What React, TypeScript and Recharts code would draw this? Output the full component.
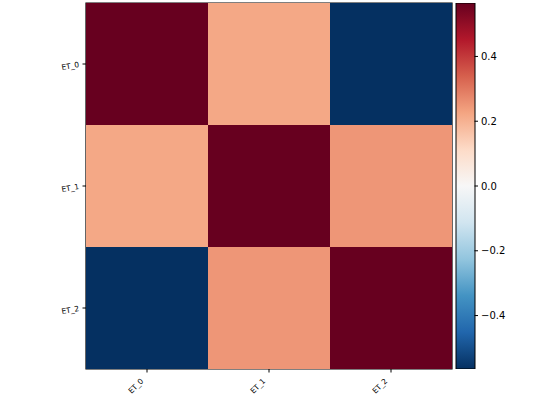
import {
  ScatterChart,
  Scatter,
  BarChart,
  Bar,
  XAxis,
  YAxis,
  ReferenceArea,
} from "recharts";

// correlation matrix (diagonal is clipped to the top of the colour range)
const labels = ["ET_0", "ET_1", "ET_2"];
const row0 = [1, 0.22, -0.565];
const row1 = [0.22, 1, 0.25];
const row2 = [-0.565, 0.25, 1];
const matrix = [row0, row1, row2];
const vmin = -0.565;
const vmax = 0.565;
const cbarTicks = [-0.4, -0.2, 0, 0.2, 0.4];

// matplotlib RdBu_r stops (low -> high)
const rdbu = [
  "#053061", "#2166ac", "#4393c3", "#92c5de", "#d1e5f0", "#f7f7f7",
  "#fddbc7", "#f4a582", "#d6604d", "#b2182b", "#67001f",
];

const hex = (c: string) => [1, 3, 5].map((i) => parseInt(c.slice(i, i + 2), 16));

const colorFor = (v: number) => {
  let t = (v - vmin) / (vmax - vmin);
  t = Math.max(0, Math.min(1, t));
  const p = t * (rdbu.length - 1);
  const i = Math.min(Math.floor(p), rdbu.length - 2);
  const f = p - i;
  const a = hex(rdbu[i]);
  const b = hex(rdbu[i + 1]);
  const c = a.map((x, k) => Math.round(x + (b[k] - x) * f));
  return `rgb(${c[0]},${c[1]},${c[2]})`;
};

const cells = matrix.flatMap((row, r) =>
  row.map((value, c) => ({ x: c, y: r, value }))
);
const cbarData = [{ name: "cbar", range: [vmin, vmax] }];

const W = 460;
const H = 400;
const M = { top: 3, right: 8, left: 0, bottom: 0 };
const Y_W = 86;
const X_H = 31;
const cellW = (W - M.left - M.right - Y_W) / labels.length;
const cellH = (H - M.top - M.bottom - X_H) / labels.length;

const CellShape = (props: any) => {
  const { cx, cy, payload } = props;
  return (
    <rect
      x={cx - cellW / 2}
      y={cy - cellH / 2}
      width={cellW + 0.5}
      height={cellH + 0.5}
      fill={colorFor(payload.value)}
    />
  );
};

const font = "'DejaVu Sans', sans-serif";

const YTick = ({ x, y, payload }: any) => (
  <text
    x={x - 1}
    y={y + 3}
    textAnchor="end"
    fontSize={7.5}
    fontFamily={font}
    fill="#000"
    transform={`rotate(-10, ${x - 1}, ${y + 3})`}
  >
    {labels[payload.value]}
  </text>
);

const XTick = ({ x, y, payload }: any) => (
  <text
    x={x - 3}
    y={y + 7}
    textAnchor="end"
    fontSize={7.5}
    fontFamily={font}
    fill="#000"
    transform={`rotate(-45, ${x - 3}, ${y + 7})`}
  >
    {labels[payload.value]}
  </text>
);

const fmt = (v: number) => (v < 0 ? "\u2212" + Math.abs(v).toFixed(1) : v.toFixed(1));

export default function App() {
  return (
    <div style={{ position: "absolute", left: 0, top: 0, width: 560, height: 400, background: "#fff" }}>
      <svg width={0} height={0} style={{ position: "absolute" }}>
        <defs>
          <linearGradient id="cbar" x1="0" y1="0" x2="0" y2="1">
            {rdbu
              .slice()
              .reverse()
              .map((c, i) => (
                <stop key={c} offset={`${(i / (rdbu.length - 1)) * 100}%`} stopColor={c} />
              ))}
          </linearGradient>
        </defs>
      </svg>
      <div style={{ position: "absolute", left: 0, top: 0 }}>
        <ScatterChart width={W} height={H} margin={M}>
          <XAxis
            type="number"
            dataKey="x"
            domain={[-0.5, 2.5]}
            ticks={[0, 1, 2]}
            height={X_H}
            tick={<XTick />}
            tickSize={3.5}
            axisLine={false}
            tickLine={{ stroke: "#000" }}
            allowDataOverflow
          />
          <YAxis
            type="number"
            dataKey="y"
            domain={[-0.5, 2.5]}
            ticks={[0, 1, 2]}
            reversed
            width={Y_W}
            tick={<YTick />}
            tickSize={3.5}
            axisLine={false}
            tickLine={{ stroke: "#000" }}
            allowDataOverflow
          />
          <Scatter data={cells} shape={<CellShape />} isAnimationActive={false} />
          <ReferenceArea
            x1={-0.5}
            x2={2.5}
            y1={-0.5}
            y2={2.5}
            fill="none"
            fillOpacity={0}
            stroke="#000"
            strokeWidth={1.2}
          />
        </ScatterChart>
      </div>
      <div style={{ position: "absolute", left: 448, top: 0 }}>
        <BarChart
          width={112}
          height={H}
          data={cbarData}
          barCategoryGap={0}
          margin={{ top: 3, right: 0, left: 8, bottom: X_H }}
        >
          <XAxis dataKey="name" hide />
          <YAxis
            type="number"
            orientation="right"
            domain={[vmin, vmax]}
            ticks={cbarTicks}
            tickFormatter={fmt}
            width={85.5}
            tickSize={3.5}
            tickMargin={3}
            axisLine={false}
            tickLine={{ stroke: "#000" }}
            tick={{ fill: "#000", fontSize: 10, fontFamily: font }}
            allowDataOverflow
          />
          <Bar
            dataKey="range"
            fill="url(#cbar)"
            stroke="#000"
            strokeWidth={1}
            isAnimationActive={false}
          />
        </BarChart>
      </div>
    </div>
  );
}
